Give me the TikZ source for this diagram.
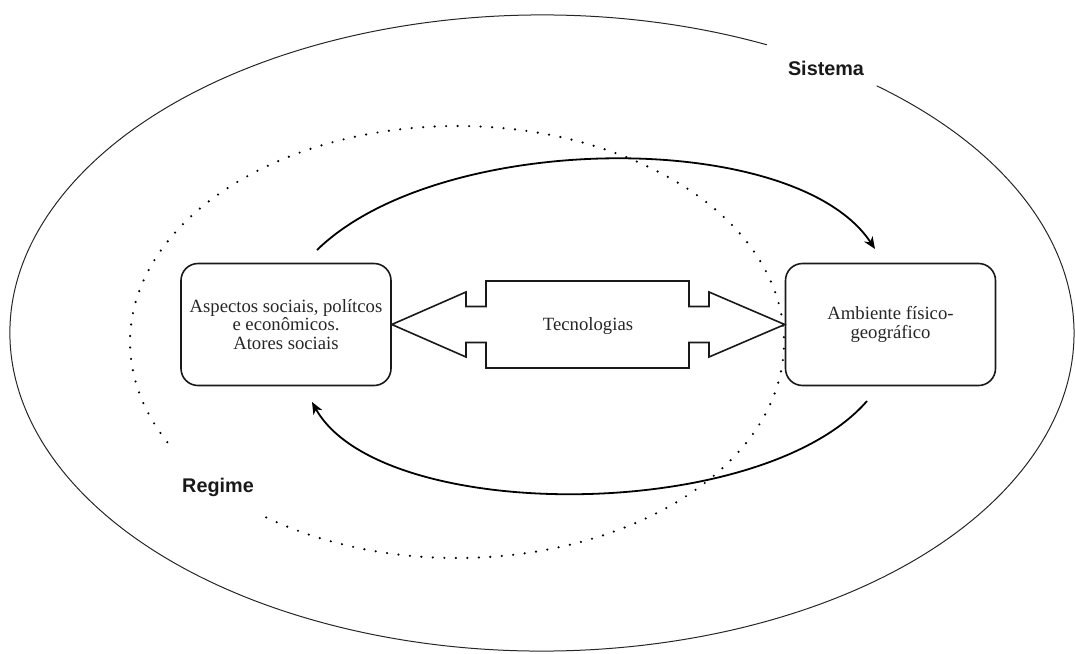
\documentclass[tikz,border=0pt]{standalone}
\usepackage{fontspec}
\setmainfont{Liberation Serif}
\newfontfamily\lblfont{Liberation Sans}
\usetikzlibrary{arrows.meta,calc}
\begin{document}
\begin{tikzpicture}[x=1pt,y=-1pt,
  box/.style={draw=black!90, line width=1.6pt, rounded corners=17pt,
    minimum width=210pt, minimum height=122pt, align=center, inner sep=0pt,
    text=black!85, font=\fontsize{18.7}{18.6}\selectfont},
  techarrow/.style={draw=black!90, line width=1.6pt, line join=miter},
  flow/.style={draw=black, line width=1.8pt, -{Stealth[length=12pt,width=10pt,inset=3.5pt]}},
  sys/.style={draw=black!85, line width=1pt},
  reg/.style={draw=black, line width=2.4pt, line cap=round, dash pattern=on 0pt off 11.5pt},
  lbl/.style={font=\lblfont\bfseries\fontsize{19.8}{23}\selectfont, text=black!90, inner sep=0pt},
  txt/.style={font=\fontsize{18.7}{18.6}\selectfont, text=black!85, inner sep=0pt}
]
\useasboundingbox (0,0) rectangle (1075,653);

% outer ellipse (Sistema), open near its label
\draw[sys] (542,333) ++(-65:532 and 318)
  arc[start angle=-65, end angle=-411, x radius=532, y radius=318];
% dotted ellipse (Regime), open near its label
\draw[reg] (457,342) ++(125.7:327 and 216)
  arc[start angle=125.7, end angle=-209.7, x radius=327, y radius=216];

\node[lbl] (sis) at (826,68) {Sistema};
\node[lbl] (regl) at (218,487) {Regime};

\node[box] (L) at (286,324.5) {Aspectos sociais, polítcos\\e econômicos.\\Atores sociais};
\node[box] (R) at (890.5,324.5) {Ambiente físico-\\geográfico};

% double arrow "Tecnologias"
\draw[techarrow] (L.east) -- (466,292) -- (466,306.5) -- (486,306.5) -- (486,281)
  -- (689,281) -- (689,306.5) -- (709,306.5) -- (709,292) -- (R.west)
  -- (709,357) -- (709,342.5) -- (689,342.5) -- (689,368) -- (486,368)
  -- (486,342.5) -- (466,342.5) -- (466,357) -- cycle;
\node[txt] (tec) at (588,326.5) {Tecnologias};

% curved arrows
\coordinate (a1s) at (317,250);
\coordinate (a1e) at (875,249);
\draw[flow] (a1s) .. controls (440,130) and (795,128) .. (a1e);
\coordinate (a2s) at (867,401);
\coordinate (a2e) at (312,402);
\draw[flow] (a2s) .. controls (760,524) and (380,524) .. (a2e);
\end{tikzpicture}
\end{document}
